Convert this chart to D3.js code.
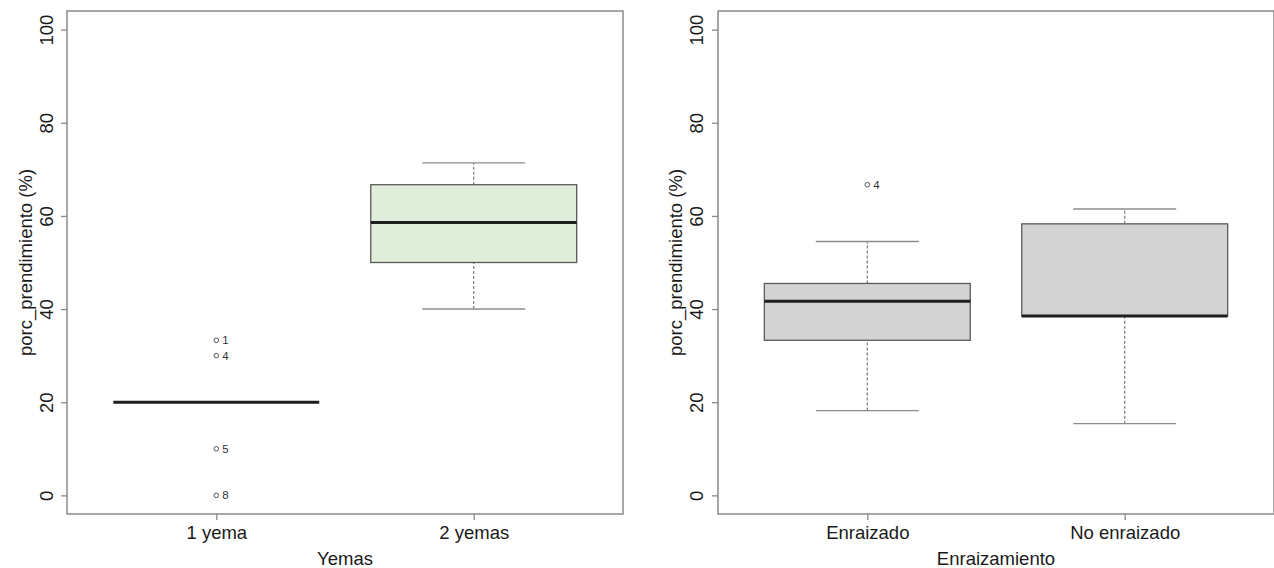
<!DOCTYPE html>
<html>
<head>
<meta charset="utf-8">
<script src="https://cdn.jsdelivr.net/npm/d3@7"></script>
<style>
  body { margin: 0; background: #fff; }
  svg text { font-family: "Liberation Sans", Arial, sans-serif; fill: #1a1a1a; }
</style>
</head>
<body>
<div class="svg-container"></div>
<script>
(function () {

	"use strict";

	// panel 1 : Yemas
	var yemas_groups 	= [ "1 yema", "2 yemas" ];
	// [ lower whisker, q1, median, q3, upper whisker ]
	var yemas_stats 	= [ [ 20, 20, 20, 20, 20 ], [ 40, 50, 58.6, 66.7, 71.4 ] ];
	var yemas_out_val 	= [ [ 33.3, 30, 10, 0 ], [] ];
	var yemas_out_lab 	= [ [ "1", "4", "5", "8" ], [] ];
	var yemas_fill 		= [ "#e1eedb", "#e1eedb" ];

	// panel 2 : Enraizamiento
	var enr_groups 		= [ "Enraizado", "No enraizado" ];
	var enr_stats 		= [ [ 18.2, 33.3, 41.7, 45.5, 54.5 ], [ 15.4, 38.5, 38.5, 58.3, 61.5 ] ];
	var enr_out_val 	= [ [ 66.7 ], [] ];
	var enr_out_lab 	= [ [ "4" ], [] ];
	var enr_fill 		= [ "#d3d3d3", "#d3d3d3" ];

	var y_ticks 		= [ 0, 20, 40, 60, 80, 100 ];
	var y_title 		= "porc_prendimiento (%)";

	var width = 1274, height = 568;

	var svg = d3.select(".svg-container").append("svg")
		.attr("width", width)
		.attr("height", height);

	var y = d3.scaleLinear().domain([ -4, 104 ]).range([ 514, 11 ]);

	drawPanel( 67, 623, yemas_groups, yemas_stats, yemas_out_val, yemas_out_lab, yemas_fill, "Yemas", 46, 25 );
	drawPanel( 718, 1274, enr_groups, enr_stats, enr_out_val, enr_out_lab, enr_fill, "Enraizamiento", 696, 675 );

	function drawPanel ( x0, x1, groups, stats, outVal, outLab, fill, xTitle, tickLabX, titleX ) {

		var x = d3.scaleLinear().domain([ 0.42, groups.length + 0.58 ]).range([ x0, x1 ]);
		var half = x(1.4) - x(1);
		var cap = x(1.2) - x(1);

		var g = svg.append("g");

		// y axis
		var yAxis = g.append("g")
			.attr("transform", "translate(" + x0 + ",0)")
			.call(d3.axisLeft(y).tickValues(y_ticks).tickSize(6).tickPadding(0));
		yAxis.select(".domain").remove();
		yAxis.selectAll(".tick line").attr("stroke", "#8a8a8a").attr("stroke-width", 1.3);
		yAxis.selectAll(".tick text")
			.attr("x", null).attr("dy", null)
			.attr("transform", "translate(" + ( tickLabX - x0 ) + ",0) rotate(-90)")
			.attr("text-anchor", "middle")
			.attr("dominant-baseline", "central")
			.style("font-size", "18.5px");

		// x axis
		var xAxis = g.append("g")
			.attr("transform", "translate(0,514)")
			.call(d3.axisBottom(x).tickValues(groups.map(function (d, i) { return i + 1; }))
				.tickFormat(function (d) { return groups[d - 1]; }).tickSize(6).tickPadding(0));
		xAxis.select(".domain").remove();
		xAxis.selectAll(".tick line").attr("stroke", "#8a8a8a").attr("stroke-width", 1.3);
		xAxis.selectAll(".tick text")
			.attr("y", 25).attr("dy", null)
			.style("font-size", "18.5px");

		// titles
		g.append("text")
			.attr("x", ( x0 + x1 ) / 2).attr("y", 565)
			.attr("text-anchor", "middle")
			.style("font-size", "18.5px")
			.text(xTitle);

		g.append("text")
			.attr("transform", "translate(" + titleX + "," + y(50) + ") rotate(-90)")
			.attr("text-anchor", "middle")
			.attr("dominant-baseline", "central")
			.style("font-size", "18.5px")
			.text(y_title);

		// boxes
		var boxes = g.selectAll(".box")
			.data(stats)
			.enter()
			.append("g")
			.attr("class", "box");

		// whiskers (dashed)
		boxes.append("line")
			.attr("x1", function (d, i) { return x(i + 1); })
			.attr("x2", function (d, i) { return x(i + 1); })
			.attr("y1", function (d) { return y(d[0]); })
			.attr("y2", function (d) { return y(d[1]); })
			.attr("stroke", "#7a7a7a").attr("stroke-dasharray", "3,2").attr("stroke-width", 1.2);
		boxes.append("line")
			.attr("x1", function (d, i) { return x(i + 1); })
			.attr("x2", function (d, i) { return x(i + 1); })
			.attr("y1", function (d) { return y(d[3]); })
			.attr("y2", function (d) { return y(d[4]); })
			.attr("stroke", "#7a7a7a").attr("stroke-dasharray", "3,2").attr("stroke-width", 1.2);

		// staples
		[ 0, 4 ].forEach(function (k) {
			boxes.append("line")
				.attr("x1", function (d, i) { return x(i + 1) - cap; })
				.attr("x2", function (d, i) { return x(i + 1) + cap; })
				.attr("y1", function (d) { return y(d[k]); })
				.attr("y2", function (d) { return y(d[k]); })
				.attr("stroke", "#8c8c8c").attr("stroke-width", 1.4);
		});

		// box
		boxes.append("rect")
			.attr("x", function (d, i) { return x(i + 1) - half; })
			.attr("width", 2 * half)
			.attr("y", function (d) { return y(d[3]); })
			.attr("height", function (d) { return y(d[1]) - y(d[3]); })
			.attr("fill", function (d, i) { return fill[i]; })
			.attr("stroke", "#5a5a5a").attr("stroke-width", 1.3);

		// median
		boxes.append("line")
			.attr("x1", function (d, i) { return x(i + 1) - half; })
			.attr("x2", function (d, i) { return x(i + 1) + half; })
			.attr("y1", function (d) { return y(d[2]); })
			.attr("y2", function (d) { return y(d[2]); })
			.attr("stroke", "#1e1e1e").attr("stroke-width", 3);

		// outliers
		boxes.each(function (d, i) {
			var b = d3.select(this);
			var pts = outVal[i].map(function (v, j) { return [ v, outLab[i][j] ]; });
			b.selectAll("circle")
				.data(pts)
				.enter()
				.append("circle")
				.attr("cx", x(i + 1))
				.attr("cy", function (p) { return y(p[0]); })
				.attr("r", 2.3)
				.attr("fill", "none")
				.attr("stroke", "#555").attr("stroke-width", 1);
			b.selectAll(".olab")
				.data(pts)
				.enter()
				.append("text")
				.attr("class", "olab")
				.attr("x", x(i + 1) + 6)
				.attr("y", function (p) { return y(p[0]); })
				.attr("dominant-baseline", "central")
				.style("font-size", "11.5px")
				.style("fill", "#333")
				.text(function (p) { return p[1]; });
		});

		// frame
		g.append("rect")
			.attr("x", x0).attr("y", 11)
			.attr("width", x1 - x0).attr("height", 514 - 11)
			.attr("fill", "none")
			.attr("stroke", "#8a8a8a").attr("stroke-width", 1.5);

	}

})();
</script>
</body>
</html>
